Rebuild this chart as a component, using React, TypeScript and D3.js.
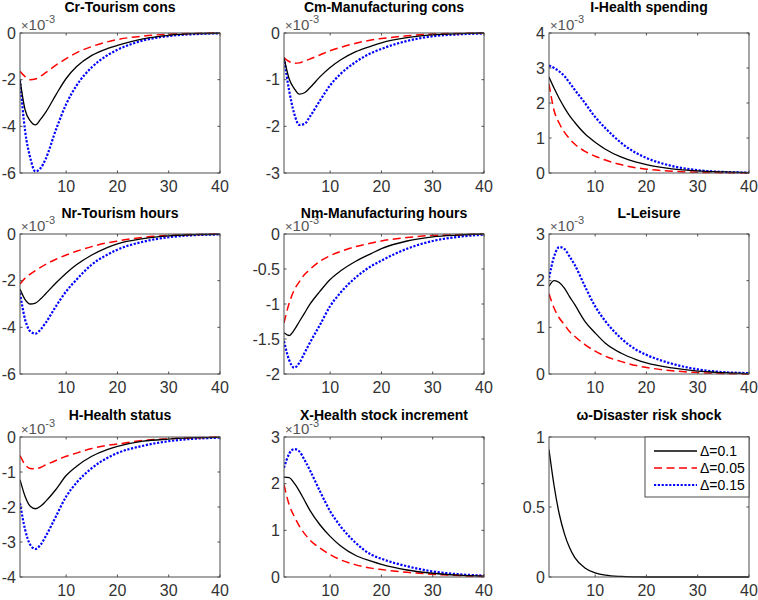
import React from 'react';
import * as d3 from 'd3';

// periods (x axis runs 1..40)
const periods = [1, 2, 3, 4, 5, 6, 8, 10, 12, 15, 18, 20, 25, 30, 35, 40];

// values in units of 1e-3 (except omega)
const crBase = [-2.0, -3.3, -3.77, -3.94, -3.7, -3.4, -2.65, -1.95, -1.45, -0.96, -0.67, -0.53, -0.25, -0.1, -0.03, -0.01];
const crLow = [-1.64, -1.87, -2.0, -1.97, -1.85, -1.7, -1.38, -1.1, -0.85, -0.58, -0.38, -0.28, -0.13, -0.05, -0.02, 0];
const crHigh = [-2.0, -4.2, -5.35, -5.93, -5.8, -5.4, -4.15, -3.05, -2.26, -1.47, -0.96, -0.72, -0.32, -0.13, -0.05, -0.01];

const cmBase = [-0.53, -0.98, -1.19, -1.31, -1.28, -1.18, -0.94, -0.74, -0.58, -0.4, -0.28, -0.21, -0.1, -0.04, -0.015, 0];
const cmLow = [-0.53, -0.61, -0.65, -0.64, -0.6, -0.56, -0.47, -0.38, -0.31, -0.22, -0.15, -0.12, -0.06, -0.02, -0.01, 0];
const cmHigh = [-0.53, -1.23, -1.73, -1.97, -1.95, -1.8, -1.45, -1.12, -0.88, -0.62, -0.43, -0.34, -0.17, -0.07, -0.03, -0.01];

const iBase = [2.74, 2.42, 2.13, 1.87, 1.64, 1.45, 1.12, 0.88, 0.68, 0.46, 0.31, 0.24, 0.12, 0.06, 0.03, 0.01];
const iLow = [2.55, 1.78, 1.42, 1.17, 0.98, 0.83, 0.62, 0.48, 0.37, 0.24, 0.15, 0.11, 0.05, 0.02, 0.01, 0];
const iHigh = [3.07, 3.0, 2.9, 2.77, 2.58, 2.38, 2.0, 1.6, 1.28, 0.87, 0.57, 0.43, 0.2, 0.08, 0.03, 0.01];

const nrBase = [-2.36, -2.81, -3.0, -2.96, -2.79, -2.56, -2.1, -1.68, -1.32, -0.9, -0.58, -0.42, -0.2, -0.08, -0.03, -0.01];
const nrLow = [-2.14, -1.89, -1.72, -1.57, -1.43, -1.3, -1.08, -0.9, -0.74, -0.54, -0.38, -0.3, -0.14, -0.06, -0.02, 0];
const nrHigh = [-2.53, -3.67, -4.17, -4.27, -4.1, -3.81, -3.1, -2.46, -1.96, -1.31, -0.89, -0.67, -0.33, -0.14, -0.05, -0.02];

const nmBase = [-1.41, -1.45, -1.37, -1.25, -1.13, -1.01, -0.82, -0.65, -0.53, -0.39, -0.28, -0.21, -0.1, -0.04, -0.015, 0];
const nmLow = [-1.27, -0.99, -0.8, -0.68, -0.58, -0.51, -0.39, -0.31, -0.25, -0.18, -0.13, -0.1, -0.05, -0.02, -0.01, 0];
const nmHigh = [-1.53, -1.8, -1.91, -1.84, -1.7, -1.56, -1.3, -1.03, -0.84, -0.62, -0.46, -0.38, -0.21, -0.1, -0.04, -0.01];

const lBase = [1.88, 2.0, 1.96, 1.84, 1.66, 1.49, 1.13, 0.88, 0.66, 0.45, 0.31, 0.24, 0.13, 0.06, 0.03, 0.01];
const lLow = [1.72, 1.41, 1.2, 1.06, 0.91, 0.81, 0.63, 0.49, 0.38, 0.27, 0.18, 0.14, 0.07, 0.03, 0.01, 0];
const lHigh = [2.06, 2.52, 2.72, 2.68, 2.52, 2.34, 1.88, 1.45, 1.13, 0.77, 0.52, 0.41, 0.22, 0.1, 0.04, 0.02];

const hBase = [-1.22, -1.7, -1.98, -2.05, -1.98, -1.84, -1.5, -1.1, -0.84, -0.55, -0.36, -0.27, -0.12, -0.06, -0.02, -0.01];
const hLow = [-0.53, -0.79, -0.9, -0.91, -0.87, -0.8, -0.67, -0.55, -0.46, -0.33, -0.24, -0.2, -0.1, -0.05, -0.02, 0];
const hHigh = [-1.89, -2.65, -3.08, -3.2, -3.08, -2.84, -2.27, -1.7, -1.31, -0.89, -0.6, -0.46, -0.25, -0.12, -0.05, -0.02];

const xBase = [2.14, 2.13, 2.01, 1.84, 1.64, 1.44, 1.12, 0.87, 0.67, 0.46, 0.34, 0.27, 0.15, 0.08, 0.04, 0.02];
const xLow = [1.98, 1.55, 1.3, 1.09, 0.93, 0.8, 0.62, 0.48, 0.37, 0.26, 0.19, 0.16, 0.1, 0.06, 0.03, 0.01];
const xHigh = [2.34, 2.64, 2.74, 2.69, 2.51, 2.3, 1.84, 1.41, 1.09, 0.73, 0.48, 0.39, 0.23, 0.12, 0.06, 0.03];

const omega = [0.91, 0.65, 0.45, 0.31, 0.21, 0.14, 0.065, 0.03, 0.013, 0.004, 0.001, 0, 0, 0, 0, 0];

const xTicks = [10, 20, 30, 40];
const legendLabels = ['Δ=0.1', 'Δ=0.05', 'Δ=0.15'];

interface Panel {
  title: string;
  domain: [number, number];
  ticks: number[];
  exp: boolean;
  series: number[][]; // base, low, high
}

const panels: Panel[] = [
  { title: 'Cr-Tourism cons', domain: [-6, 0], ticks: [-6, -4, -2, 0], exp: true, series: [crBase, crLow, crHigh] },
  { title: 'Cm-Manufacturing cons', domain: [-3, 0], ticks: [-3, -2, -1, 0], exp: true, series: [cmBase, cmLow, cmHigh] },
  { title: 'I-Health spending', domain: [0, 4], ticks: [0, 1, 2, 3, 4], exp: true, series: [iBase, iLow, iHigh] },
  { title: 'Nr-Tourism hours', domain: [-6, 0], ticks: [-6, -4, -2, 0], exp: true, series: [nrBase, nrLow, nrHigh] },
  { title: 'Nm-Manufacturing hours', domain: [-2, 0], ticks: [-2, -1.5, -1, -0.5, 0], exp: true, series: [nmBase, nmLow, nmHigh] },
  { title: 'L-Leisure', domain: [0, 3], ticks: [0, 1, 2, 3], exp: true, series: [lBase, lLow, lHigh] },
  { title: 'H-Health status', domain: [-4, 0], ticks: [-4, -3, -2, -1, 0], exp: true, series: [hBase, hLow, hHigh] },
  { title: 'X-Health stock increment', domain: [0, 3], ticks: [0, 1, 2, 3], exp: true, series: [xBase, xLow, xHigh] },
  { title: 'ω-Disaster risk shock', domain: [0, 1], ticks: [0, 0.5, 1], exp: false, series: [omega] },
];

const styles = [
  { color: '#000000', width: 1.3, dash: '' },
  { color: '#ff0000', width: 1.5, dash: '8,4.5' },
  { color: '#0000ff', width: 2.2, dash: '2.2,1.6' },
];

const colLeft = [20, 284, 549];
const rowTop = [33, 234, 437];
const titleGap = [21, 16, 17];
const W = 200;
const H = 140;
const FONT = '"Liberation Sans", Arial, Helvetica, sans-serif';
const INK = '#333333';
const AXIS = '#4d4d4d';

const PanelView: React.FC<{ p: Panel; i: number }> = ({ p, i }) => {
  const row = Math.floor(i / 3);
  const left = colLeft[i % 3];
  const top = rowTop[row];
  const x = d3.scaleLinear().domain([1, 40]).range([left, left + W]);
  const y = d3.scaleLinear().domain(p.domain).range([top + H, top]);
  const line = d3.line<number>()
    .x((_, k) => x(periods[k]))
    .y(d => y(d))
    .curve(d3.curveMonotoneX);
  const clipId = `clip${i}`;
  const tl = 2.5;
  return (
    <g>
      <defs>
        <clipPath id={clipId}>
          <rect x={left} y={top - 1} width={W} height={H + 2} />
        </clipPath>
      </defs>
      <rect x={left} y={top} width={W} height={H} fill="#fff" />
      <g clipPath={`url(#${clipId})`}>
        {p.series.map((s, k) => {
          const st = styles[k];
          return (
            <path key={k} d={line(s) || ''} fill="none" stroke={st.color}
              strokeWidth={st.width} strokeDasharray={st.dash || undefined} />
          );
        }).reverse()}
      </g>
      <rect x={left} y={top} width={W} height={H} fill="none" stroke={AXIS} strokeWidth={1} />
      {xTicks.map(t => (
        <g key={`x${t}`}>
          <line x1={x(t)} x2={x(t)} y1={top + H} y2={top + H - tl} stroke={AXIS} />
          <line x1={x(t)} x2={x(t)} y1={top} y2={top + tl} stroke={AXIS} />
          <text x={x(t)} y={top + H + 19} textAnchor="middle" fontSize={16} fill={INK} fontFamily={FONT}>{t}</text>
        </g>
      ))}
      {p.ticks.map(t => (
        <g key={`y${t}`}>
          <line x1={left} x2={left + tl} y1={y(t)} y2={y(t)} stroke={AXIS} />
          <line x1={left + W} x2={left + W - tl} y1={y(t)} y2={y(t)} stroke={AXIS} />
          <text x={left - 4} y={y(t) + 5.5} textAnchor="end" fontSize={16} fill={INK} fontFamily={FONT}>{String(t)}</text>
        </g>
      ))}
      {p.exp && (
        <text x={left + 1} y={top - 3} fontSize={15} fill="#555" fontFamily={FONT}>
          <tspan fontSize={13}>×</tspan>10<tspan fontSize={11} dy={-7}>-3</tspan>
        </text>
      )}
      <text x={left + W / 2} y={top - titleGap[row]} textAnchor="middle" fontSize={14} fontWeight="bold" fill="#000" fontFamily={FONT}>{p.title}</text>
    </g>
  );
};

const Legend: React.FC = () => {
  const x0 = 645;
  const y0 = 437;
  const rows = [452, 469, 486];
  return (
    <g>
      <rect x={x0} y={y0} width={104} height={60} fill="#fff" stroke={AXIS} strokeWidth={1} />
      {legendLabels.map((lab, k) => {
        const st = styles[k];
        return (
          <g key={lab}>
            <line x1={654} x2={697} y1={rows[k] - 1} y2={rows[k] - 1} stroke={st.color}
              strokeWidth={st.width} strokeDasharray={st.dash || undefined} />
            <text x={700} y={rows[k] + 4} fontSize={14} fill="#000" fontFamily={FONT}>{lab}</text>
          </g>
        );
      })}
    </g>
  );
};

export default function App() {
  return (
    <svg width={758} height={600} style={{ position: 'absolute', left: 0, top: 0, background: '#fff' }}>
      <rect width={758} height={600} fill="#fff" />
      {panels.map((p, i) => <PanelView key={i} p={p} i={i} />)}
      <Legend />
    </svg>
  );
}
